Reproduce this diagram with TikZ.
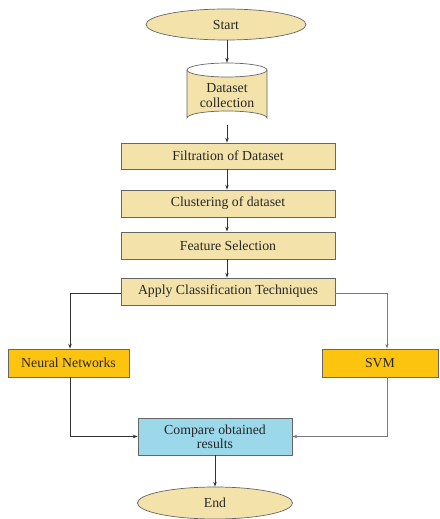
\documentclass[tikz,border=0pt]{standalone}
\usepackage{fontspec}
\setmainfont{Liberation Serif}
\usetikzlibrary{arrows.meta,shapes.geometric}
\definecolor{beige}{HTML}{F3E3AA}
\definecolor{gold}{HTML}{FDC40F}
\definecolor{skyb}{HTML}{9BD8EA}
\definecolor{lineA}{HTML}{333333}
\definecolor{lineB}{HTML}{7A7A7A}
\tikzset{
  every node/.style={font=\fontsize{13.8}{15}\selectfont, text=black!85},
  bbox/.style={rectangle, draw=black!60, line width=0.7pt, fill=beige, minimum width=214pt, inner sep=0pt},
  gbox/.style={rectangle, draw=black!60, line width=0.7pt, fill=gold, inner sep=0pt, minimum height=28pt},
  term/.style={ellipse, draw=black!60, line width=0.7pt, fill=beige, inner sep=0pt},
  conn/.style={draw=lineA, line width=0.8pt, -{Stealth[length=5pt,width=3.5pt]}},
  connB/.style={draw=lineB, line width=0.8pt, -{Stealth[length=5pt,width=3.5pt]}}
}
\begin{document}
\begin{tikzpicture}[x=1pt,y=-1pt]
\useasboundingbox (0,0) rectangle (439,519);
\node[term, minimum width=160pt, minimum height=31pt] (start) at (226,24.5) {Start};
% cylinder
\node[minimum width=80pt, minimum height=62pt, inner sep=0pt] (ds) at (227,94) {};
\fill[beige] (187,70) -- (187,118) arc[start angle=180,end angle=360,x radius=40,y radius=7] -- (267,70) -- cycle;
\draw[black!60, line width=0.7pt] (187,70) -- (187,118) arc[start angle=180,end angle=360,x radius=40,y radius=7] -- (267,70);
\draw[black!60, line width=0.7pt, fill=white] (227,70) ellipse[x radius=40, y radius=7];
\node[align=center] at (227,96) {Dataset\\[0pt]collection};
\node[bbox, minimum height=26pt] (filt) at (228,156) {Filtration of Dataset};
\node[bbox, minimum height=27pt] (clus) at (228,203.5) {Clustering of dataset};
\node[bbox, minimum height=27pt] (feat) at (228,245.5) {Feature Selection};
\node[bbox, minimum height=27pt] (appl) at (228,291.5) {Apply Classification Techniques};
\node[gbox, minimum width=121pt] (nn) at (68.5,363) {Neural Networks};
\node[gbox, minimum width=116pt] (svm) at (380,363) {SVM};
\node[rectangle, draw=black!60, line width=0.7pt, fill=skyb, minimum width=154pt, minimum height=37pt, align=center, inner sep=0pt] (cmp) at (215,436.5) {Compare obtained\\[-1pt]results};
\node[term, minimum width=155pt, minimum height=32pt] (end) at (215,503) {End};
\coordinate (svmtop) at ([xshift=7pt]svm.north);
\coordinate (svmbot) at ([xshift=7pt]svm.south);
\draw[conn] (start.south -| ds.north) -- (ds.north);
\draw[conn] (ds.south) -- (ds.south |- filt.north);
\draw[conn] (filt.south -| ds.south) -- (clus.north -| ds.south);
\draw[conn] (clus.south -| ds.south) -- (feat.north -| ds.south);
\draw[conn] (feat.south -| ds.south) -- (appl.north -| ds.south);
\draw[conn] ([yshift=-1.5pt]appl.west) -| ([xshift=1.5pt]nn.north);
\draw[connB] ([yshift=-1.5pt]appl.east) -| (svmtop);
\draw[conn] ([xshift=1.5pt]nn.south) |- (cmp.west);
\draw[connB] (svmbot) |- (cmp.east);
\draw[conn] (cmp.south) -- (end.north);
\end{tikzpicture}
\end{document}
